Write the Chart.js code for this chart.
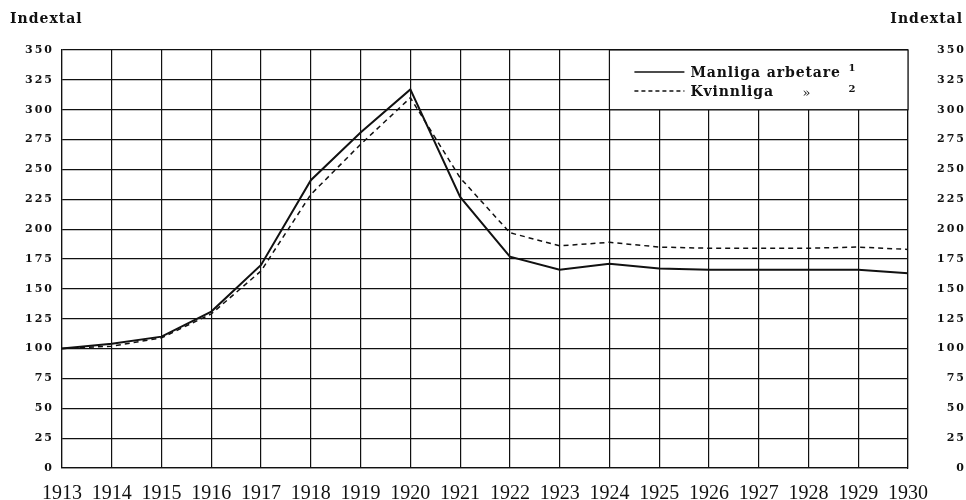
<!DOCTYPE html>
<html>
<head>
<meta charset="utf-8">
<script src="https://cdn.jsdelivr.net/npm/chart.js@4.4.1/dist/chart.umd.min.js"></script>
<style>
  body { margin: 0; background: #fff; }
  #wrap { width: 966px; height: 500px; position: relative; }
</style>
</head>
<body>
<div id="wrap"><canvas id="chart"></canvas></div>
<script>
// Data
const years = ['1913', '1914', '1915', '1916', '1917', '1918', '1919', '1920', '1921',
               '1922', '1923', '1924', '1925', '1926', '1927', '1928', '1929', '1930'];
const manliga = [100, 104, 110, 131, 170, 241, 281, 317, 227, 177, 166, 171, 167, 166, 166, 166, 166, 163];
const kvinnliga = [100, 102, 109, 129, 165, 229, 271, 310, 243, 197, 186, 189, 185, 184, 184, 184, 185, 183];
const yTicks = [0, 25, 50, 75, 100, 125, 150, 175, 200, 225, 250, 275, 300, 325, 350];

const ink = '#111';
const serif = "'DejaVu Serif', 'Liberation Serif', serif";

// Titles and the boxed legend in the upper right corner
const decorations = {
    id: 'decorations',
    beforeDraw(chart) {
        // spaced-out digits on the y axes only
        chart.ctx.letterSpacing = '2px';
    },
    beforeDatasetsDraw(chart) {
        chart.ctx.letterSpacing = '0px';
    },
    afterDatasetsDraw(chart) {
        chart.ctx.letterSpacing = '0px';
    },
    afterDraw(chart) {
        const ctx = chart.ctx;
        const x = chart.scales.x;
        const y = chart.scales.y;
        ctx.save();
        ctx.fillStyle = ink;
        ctx.letterSpacing = '1px';
        ctx.font = 'bold 14px ' + serif;
        ctx.textBaseline = 'middle';
        ctx.textAlign = 'left';
        ctx.fillText('Indextal', 10, 19);
        ctx.textAlign = 'right';
        ctx.fillText('Indextal', 963, 19);

        // legend box: spans 1924..1930, 300..350
        const left = x.getPixelForValue(11);
        const right = x.getPixelForValue(17);
        const top = y.getPixelForValue(350);
        const bottom = y.getPixelForValue(300);
        ctx.fillStyle = '#fff';
        ctx.fillRect(left, top, right - left, bottom - top);
        ctx.strokeStyle = ink;
        ctx.lineWidth = 1.2;
        ctx.strokeRect(left, top, right - left, bottom - top);

        const sx = left + 25;
        const row1 = top + 22;
        const row2 = top + 41;
        ctx.lineWidth = 1.6;
        ctx.beginPath();
        ctx.moveTo(sx, row1);
        ctx.lineTo(sx + 50, row1);
        ctx.stroke();
        ctx.setLineDash([4, 3]);
        ctx.lineWidth = 1.4;
        ctx.beginPath();
        ctx.moveTo(sx, row2);
        ctx.lineTo(sx + 50, row2);
        ctx.stroke();
        ctx.setLineDash([]);

        ctx.fillStyle = ink;
        ctx.textAlign = 'left';
        ctx.textBaseline = 'alphabetic';
        ctx.letterSpacing = '0.9px';
        ctx.font = 'bold 14px ' + serif;
        ctx.fillText('Manliga arbetare', sx + 56, row1 + 5);
        ctx.fillText('Kvinnliga', sx + 56, row2 + 5);
        ctx.letterSpacing = '0px';
        ctx.font = '13px ' + serif;
        ctx.fillText('»', left + 193, row2 + 6);
        ctx.font = 'bold 10px ' + serif;
        ctx.fillText('1', left + 239, row1 - 1);
        ctx.fillText('2', left + 239, row2 + 1);
        ctx.restore();
    }
};

const gridStyle = { color: ink, lineWidth: 1.2, drawTicks: false };

new Chart(document.getElementById('chart'), {
    type: 'line',
    data: {
        labels: years,
        datasets: [
            {
                label: 'Manliga arbetare',
                data: manliga,
                borderColor: ink,
                borderWidth: 2,
                pointRadius: 0,
                tension: 0
            },
            {
                label: 'Kvinnliga',
                data: kvinnliga,
                borderColor: ink,
                borderWidth: 1.5,
                borderDash: [5, 4],
                pointRadius: 0,
                tension: 0
            }
        ]
    },
    options: {
        responsive: true,
        maintainAspectRatio: false,
        animation: false,
        layout: { padding: { top: 50, left: 0, right: 0, bottom: 0 } },
        scales: {
            x: {
                type: 'category',
                offset: false,
                grid: gridStyle,
                border: { color: ink, width: 1.2 },
                ticks: {
                    z: 1,
                    color: ink,
                    padding: 14,
                    maxRotation: 0,
                    autoSkip: false,
                    font: { family: "'Liberation Serif', serif", size: 20 }
                },
                afterFit(scale) { scale.height = 32; }
            },
            y: {
                position: 'left',
                min: 0,
                max: 350,
                afterBuildTicks(scale) { scale.ticks = yTicks.map(v => ({ value: v })); },
                grid: gridStyle,
                border: { color: ink, width: 1.2 },
                ticks: {
                    color: ink,
                    padding: 8,
                    font: { family: serif, size: 11, weight: 'bold' }
                },
                afterFit(scale) { scale.width = 62; }
            },
            y2: {
                position: 'right',
                min: 0,
                max: 350,
                afterBuildTicks(scale) { scale.ticks = yTicks.map(v => ({ value: v })); },
                grid: { drawOnChartArea: false, drawTicks: false },
                border: { color: ink, width: 1.2 },
                ticks: {
                    color: ink,
                    padding: 14,
                    crossAlign: 'far',
                    font: { family: serif, size: 11, weight: 'bold' }
                },
                afterFit(scale) { scale.width = 58; }
            }
        },
        plugins: {
            legend: { display: false },
            tooltip: { enabled: false }
        }
    },
    plugins: [decorations]
});
</script>
</body>
</html>
